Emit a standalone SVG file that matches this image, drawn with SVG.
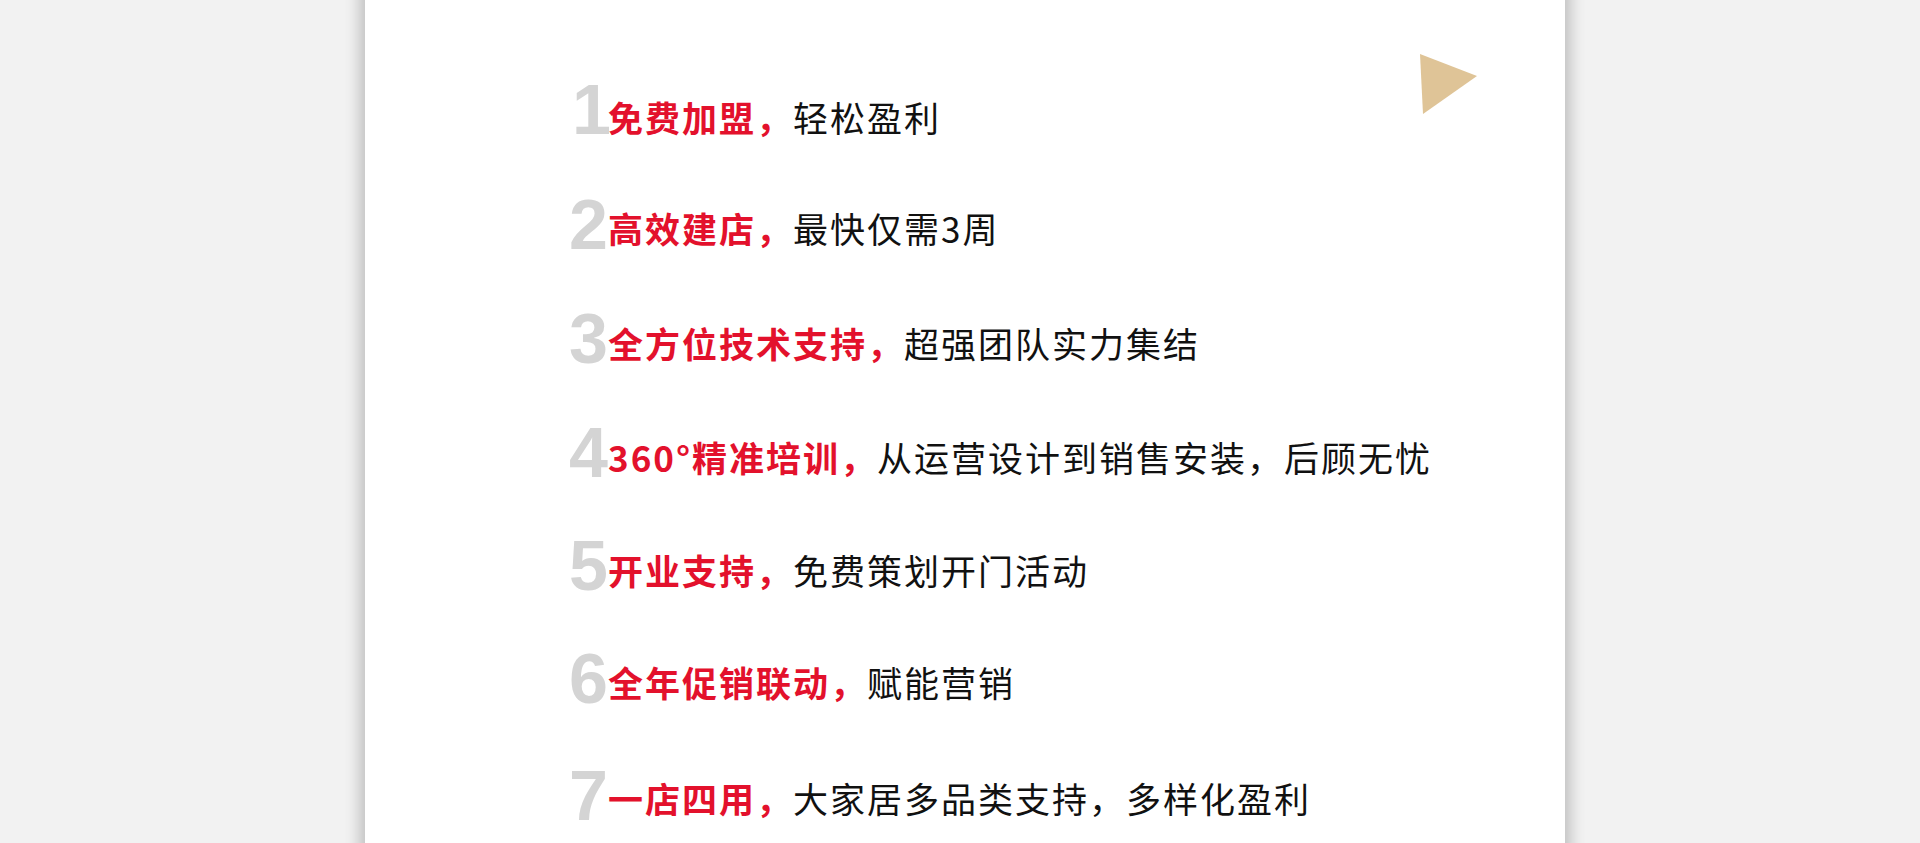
<svg xmlns="http://www.w3.org/2000/svg" width="1920" height="843" viewBox="0 0 1920 843">
<defs>
<filter id="sh" x="-5%" y="-5%" width="110%" height="110%"><feGaussianBlur stdDeviation="8"/></filter>
<style>
.n{font-family:"Liberation Sans",Arial,sans-serif;font-weight:bold;font-size:70px;fill:#d4d4d4}
.r{font-family:"Noto Sans CJK SC","Noto Sans",sans-serif;font-weight:bold;font-size:35px;fill:#e3112c;letter-spacing:2px}
.b{font-family:"Noto Sans CJK SC","Noto Sans",sans-serif;font-size:35px;fill:#111;font-weight:normal;letter-spacing:2px}
</style>
</defs>
<rect width="1920" height="843" fill="#f2f2f2"/>
<rect x="360" y="-20" width="1210" height="880" fill="#000" opacity="0.22" filter="url(#sh)"/>
<rect x="365" y="0" width="1200" height="843" fill="#fff"/>
<polygon points="1420,54 1477,76 1423,114" fill="#dfc497"/>
<g id="item1"><text class="n" x="572" y="134">1</text><text x="608" y="132"><tspan class="r">免费加盟，</tspan><tspan class="b">轻松盈利</tspan></text></g>
<g id="item2"><text class="n" x="569" y="249">2</text><text x="608" y="243"><tspan class="r">高效建店，</tspan><tspan class="b">最快仅需3周</tspan></text></g>
<g id="item3"><text class="n" x="569" y="363">3</text><text x="608" y="358"><tspan class="r">全方位技术支持，</tspan><tspan class="b">超强团队实力集结</tspan></text></g>
<g id="item4"><text class="n" x="569" y="477">4</text><text x="608" y="472"><tspan class="r">360°精准培训，</tspan><tspan class="b">从运营设计到销售安装，后顾无忧</tspan></text></g>
<g id="item5"><text class="n" x="569" y="590">5</text><text x="608" y="585"><tspan class="r">开业支持，</tspan><tspan class="b">免费策划开门活动</tspan></text></g>
<g id="item6"><text class="n" x="569" y="703">6</text><text x="608" y="697"><tspan class="r">全年促销联动，</tspan><tspan class="b">赋能营销</tspan></text></g>
<g id="item7"><text class="n" x="569" y="820">7</text><text x="608" y="813"><tspan class="r">一店四用，</tspan><tspan class="b">大家居多品类支持，多样化盈利</tspan></text></g>
<g id="connectors"></g>
</svg>
